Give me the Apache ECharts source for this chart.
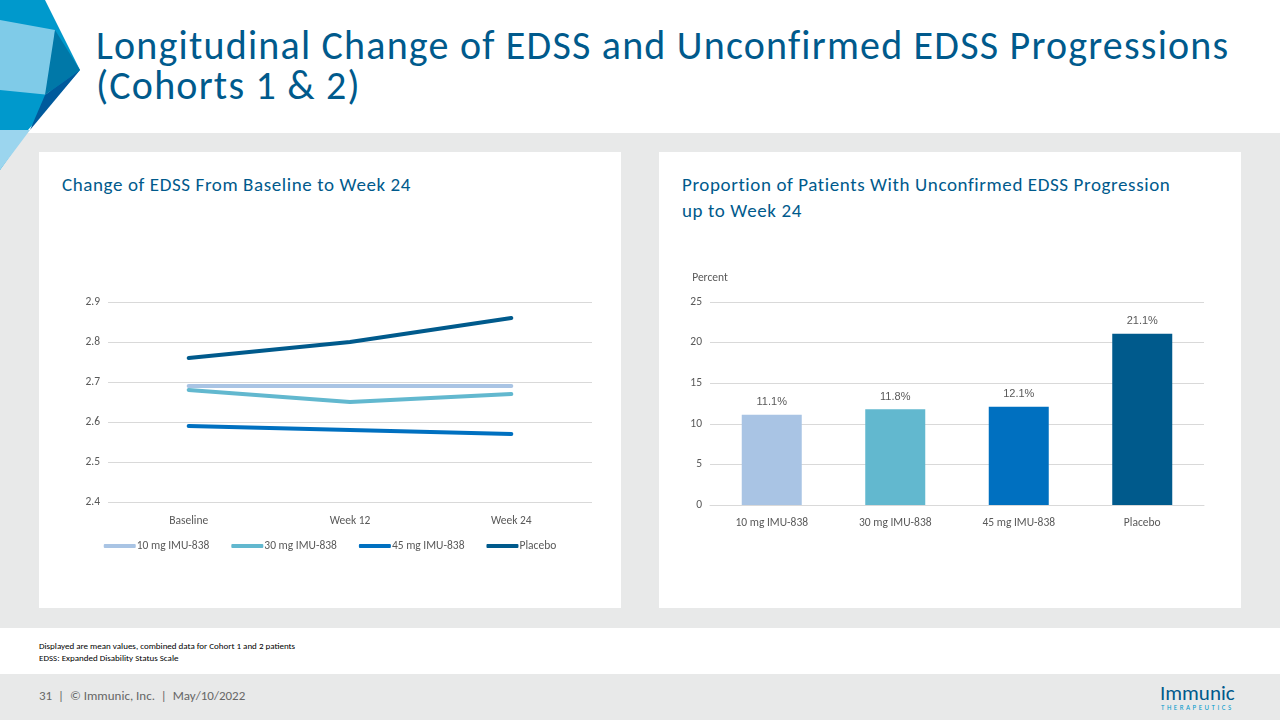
<!DOCTYPE html>
<html><head><meta charset="utf-8">
<script src="https://cdn.jsdelivr.net/npm/echarts@6/dist/echarts.min.js"></script>
<style>
body{margin:0;width:1280px;height:720px;position:relative;font-family:Calibri,Carlito,"Open Sans",sans-serif;background:#fff;overflow:hidden}
#bg{position:absolute;left:0;top:133px;width:1280px;height:495px;background:#e8e9e9}
#foot{position:absolute;left:0;top:674px;width:1280px;height:46px;background:#e8e9e9}
.panel{position:absolute;top:152px;width:582px;height:456px;background:#fff}
h1{position:absolute;left:96px;top:26px;margin:0;font-weight:normal;font-size:40px;letter-spacing:1.2px;line-height:40px;color:#005a8c}
.sub{position:absolute;font-size:19px;letter-spacing:0.6px;color:#005a8c;line-height:26px}
.note{position:absolute;left:39px;font-size:9px;color:#000}
</style></head><body>
<div id="bg"></div><div id="foot"></div>
<svg style="position:absolute;left:0;top:0" width="82" height="170">
<polygon points="0,0 45,0 80,70 28,130 0,170" fill="#0099cc"/>
<polygon points="0,20 55,30 50,95 0,90" fill="#7fcbe8"/>
<polygon points="55,30 80,70 45,95" fill="#0078a8"/>
<polygon points="45,95 80,70 30,130" fill="#005a9c"/>
<polygon points="0,130 30,130 0,170" fill="#9bd5ee"/>
</svg>
<h1>Longitudinal Change of EDSS and Unconfirmed EDSS Progressions<br>(Cohorts 1 &amp; 2)</h1>
<div class="panel" style="left:39px"></div>
<div class="panel" style="left:659px"></div>
<div class="sub" style="left:62px;top:172px">Change of EDSS From Baseline to Week 24</div>
<div class="sub" style="left:682px;top:172px">Proportion of Patients With Unconfirmed EDSS Progression<br>up to Week 24</div>
<div class="note" style="top:640px">Displayed are mean values, combined data for Cohort 1 and 2 patients</div>
<div class="note" style="top:652px">EDSS: Expanded Disability Status Scale</div>
<div style="position:absolute;left:39px;top:688px;font-size:13px;color:#666">31 &nbsp;| &nbsp;© Immunic, Inc. &nbsp;| &nbsp;May/10/2022</div>
<div style="position:absolute;left:1160px;top:680px;font-size:21px;color:#005a8c">Immunic</div>
<div style="position:absolute;left:1161px;top:703px;font-size:7px;letter-spacing:2.5px;color:#0099cc">THERAPEUTICS</div>
<div id="c1" style="position:absolute;left:39px;top:152px;width:582px;height:456px"></div>
<div id="c2" style="position:absolute;left:659px;top:152px;width:582px;height:456px"></div>
<script>
const timepoints=["Baseline","Week 12","Week 24"];
const s10=[2.69,2.69,2.69];
const s30=[2.68,2.65,2.67];
const s45=[2.59,2.58,2.57];
const sPlacebo=[2.76,2.80,2.86];
const groups=["10 mg IMU-838","30 mg IMU-838","45 mg IMU-838","Placebo"];
const pct=[11.1,11.8,12.1,21.1];
const colors=["#a9c4e4","#62b8cf","#0070c0","#005a8c"];
const txt={color:"#595959",fontSize:11.5,fontFamily:"Calibri,Carlito,sans-serif"};
const c1=echarts.init(document.getElementById('c1'));
c1.setOption({animation:false,
grid:{left:69,right:29,top:150,bottom:106},
legend:{bottom:51,itemWidth:32,itemHeight:4,itemGap:22,icon:'roundRect',textStyle:Object.assign({padding:[0,0,0,-4]},txt),data:groups},
xAxis:{type:'category',data:timepoints,axisLine:{show:false},axisTick:{show:false},axisLabel:Object.assign({margin:13},txt)},
yAxis:{type:'value',min:2.4,max:2.9,interval:0.1,axisLabel:Object.assign({formatter:v=>v.toFixed(1)},txt),splitLine:{lineStyle:{color:'#d9d9d9'}}},
series:[s10,s30,s45,sPlacebo].map((d,i)=>({name:groups[i],type:'line',data:d,symbol:'none',lineStyle:{width:4,color:colors[i],cap:'round'},itemStyle:{color:colors[i]}}))
});
const c2=echarts.init(document.getElementById('c2'));
c2.setOption({animation:false,
grid:{left:51,right:37,top:150,bottom:103},
xAxis:{type:'category',data:groups,axisLine:{lineStyle:{color:'#d9d9d9'}},axisTick:{show:false},axisLabel:Object.assign({margin:12},txt)},
yAxis:{type:'value',min:0,max:25,interval:5,name:'Percent',nameGap:18,nameTextStyle:Object.assign({align:'center'},txt),axisLabel:txt,splitLine:{lineStyle:{color:'#d9d9d9'}}},
series:[{type:'bar',barWidth:60,data:pct.map((v,i)=>({value:v,itemStyle:{color:colors[i]}})),label:{show:true,position:'top',distance:7,formatter:p=>p.value.toFixed(1)+'%',color:'#595959',fontSize:11}}]
});
</script></body></html>
